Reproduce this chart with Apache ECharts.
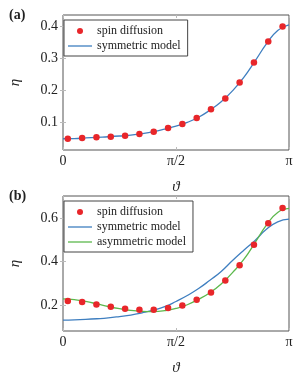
<!DOCTYPE html>
<html>
<head>
<meta charset="utf-8">
<script src="https://cdn.jsdelivr.net/npm/echarts@6/dist/echarts.min.js"></script>
<style>html,body{margin:0;padding:0;background:#fff}#c{width:299px;height:378px}</style>
</head>
<body>
<div id="c"></div>
<script>
// theta positions as fractions of pi
var pointFrac = [0.0213,0.0847,0.148,0.2114,0.2747,0.3381,0.4014,0.4648,0.5281,0.5915,0.6548,0.7182,0.7815,0.8449,0.9082,0.9716];
var curveFrac = [0,0.05,0.1,0.15,0.2,0.25,0.3,0.35,0.4,0.45,0.5,0.55,0.6,0.65,0.7,0.75,0.8,0.85,0.9,0.95,1.0];

// panel (a)
var spinA = [0.0503,0.0524,0.0545,0.0566,0.0597,0.0648,0.0721,0.0834,0.0959,0.1145,0.1414,0.1755,0.2252,0.2872,0.3524,0.399];
var symA = [0.050,0.0505,0.0525,0.0545,0.0562,0.0585,0.0615,0.066,0.072,0.080,0.089,0.101,0.117,0.139,0.165,0.199,0.241,0.292,0.345,0.387,0.404];

// panel (b)
var spinB = [0.220,0.215,0.2046,0.194,0.1848,0.180,0.180,0.1878,0.200,0.2259,0.2593,0.314,0.384,0.4768,0.5757,0.6456];
var symB = [0.133,0.134,0.136,0.139,0.143,0.149,0.156,0.166,0.178,0.194,0.218,0.245,0.277,0.315,0.355,0.405,0.452,0.497,0.548,0.582,0.594];
var asymB = [0.230,0.226,0.218,0.207,0.195,0.185,0.177,0.173,0.172,0.176,0.186,0.203,0.228,0.258,0.298,0.350,0.410,0.487,0.567,0.625,0.643];

var xTicks = [0, Math.PI/2, Math.PI];
var xTickLabels = ['0', 'π/2', 'π'];
var yTicksA = [0.1,0.2,0.3,0.4];
var yTicksB = [0.2,0.4,0.6];

function pairs(fr, vals){ return fr.map(function(f,i){ return [f*Math.PI, vals[i]]; }); }

var RED='#e8262a', BLUE='#3f7fc0', GREEN='#5cb84c';
var serif = 'Liberation Serif';
var tickStyle = {show:true, inside:true, length:3, lineStyle:{color:'#bbbbbb', width:1}};
var lineIcon = 'path://M0,0H24V1.3H0Z';

function xAxes(gi){
  var base = {type:'value', gridIndex:gi, min:0, max:Math.PI,
    axisLine:{show:false}, splitLine:{show:false}};
  var bottom = Object.assign({}, base, {position:'bottom',
    axisTick:Object.assign({customValues:xTicks}, tickStyle),
    axisLabel:{customValues:xTicks, margin:4, fontFamily:serif, fontSize:14, color:'#222',
      formatter:function(v){ var i=xTicks.findIndex(function(t){return Math.abs(t-v)<1e-6;}); return i>=0?xTickLabels[i]:''; }},
    name:'ϑ', nameLocation:'middle', nameGap:30, nameTextStyle:{fontFamily:serif, fontSize:15, color:'#222', fontStyle:'italic'}});
  var top = Object.assign({}, base, {position:'top',
    axisTick:Object.assign({customValues:xTicks}, tickStyle), axisLabel:{show:false}});
  return [bottom, top];
}
function yAxes(gi, mn, mx, ticks){
  var base = {type:'value', gridIndex:gi, min:mn, max:mx, axisLine:{show:false}, splitLine:{show:false}};
  var left = Object.assign({}, base, {position:'left',
    axisTick:Object.assign({customValues:ticks}, tickStyle),
    axisLabel:{customValues:ticks, margin:5, fontFamily:serif, fontSize:14, color:'#222',
      formatter:function(v){ return v.toFixed(1); }},
    name:'η', nameLocation:'middle', nameGap:40, nameRotate:90,
    nameTextStyle:{fontFamily:serif, fontSize:15, color:'#222', fontStyle:'italic'}});
  var right = Object.assign({}, base, {position:'right',
    axisTick:Object.assign({customValues:ticks}, tickStyle), axisLabel:{show:false}});
  return [left, right];
}

var xa = xAxes(0), xb = xAxes(1);
var ya = yAxes(0, 0.015, 0.435, yTicksA), yb = yAxes(1, 0.083, 0.70, yTicksB);

var legendCommon = {orient:'vertical', itemWidth:24, itemHeight:6, itemGap:3,
  borderColor:'#444', borderWidth:1, backgroundColor:'#fff', padding:[5,7,4,4],
  textStyle:{fontFamily:serif, fontSize:12, color:'#222'}, selectedMode:false};

var option = {
  animation:false,
  backgroundColor:'#fff',
  title:[
    {text:'(a)', left:4, top:3, textStyle:{fontFamily:serif, fontSize:14, fontWeight:'bold', color:'#222'}},
    {text:'(b)', left:4, top:184, textStyle:{fontFamily:serif, fontSize:14, fontWeight:'bold', color:'#222'}}
  ],
  grid:[
    {left:55, top:15, width:234, height:135, show:true, borderColor:'#555', borderWidth:1, backgroundColor:'transparent'},
    {left:55, top:196, width:234, height:135, show:true, borderColor:'#555', borderWidth:1, backgroundColor:'transparent'}
  ],
  xAxis:[xa[0], xa[1], xb[0], xb[1]],
  yAxis:[ya[0], ya[1], yb[0], yb[1]],
  legend:[
    Object.assign({}, legendCommon, {left:64, top:20, data:[
      {name:'spin diffusion', icon:'circle'}, {name:'symmetric model', icon:lineIcon}]}),
    Object.assign({}, legendCommon, {left:64, top:201, data:[
      {name:'spin diffusion', icon:'circle'}, {name:'symmetric model', icon:lineIcon}, {name:'asymmetric model', icon:lineIcon}]})
  ],
  series:[
    {name:'symmetric model', type:'line', xAxisIndex:0, yAxisIndex:0, data:pairs(curveFrac, symA), smooth:true, symbol:'none', lineStyle:{color:BLUE, width:1.3}, itemStyle:{color:BLUE}},
    {name:'spin diffusion', type:'scatter', xAxisIndex:0, yAxisIndex:0, data:pairs(pointFrac, spinA), symbolSize:6.5, itemStyle:{color:RED, opacity:1}, z:5},
    {name:'symmetric model', type:'line', xAxisIndex:2, yAxisIndex:2, data:pairs(curveFrac, symB), smooth:true, symbol:'none', lineStyle:{color:BLUE, width:1.3}, itemStyle:{color:BLUE}},
    {name:'asymmetric model', type:'line', xAxisIndex:2, yAxisIndex:2, data:pairs(curveFrac, asymB), smooth:true, symbol:'none', lineStyle:{color:GREEN, width:1.3}, itemStyle:{color:GREEN}},
    {name:'spin diffusion', type:'scatter', xAxisIndex:2, yAxisIndex:2, data:pairs(pointFrac, spinB), symbolSize:6.5, itemStyle:{color:RED, opacity:1}, z:5}
  ]
};
var chart = echarts.init(document.getElementById('c'), null, {renderer:'canvas'});
chart.setOption(option);
</script>
</body>
</html>
